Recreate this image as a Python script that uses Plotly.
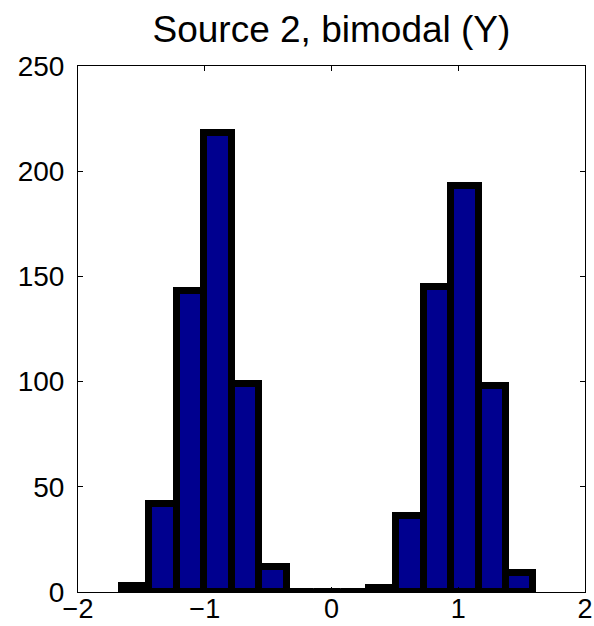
import plotly.graph_objects as go

# Histogram data
bin_centers = [-1.546, -1.329, -1.113, -0.896, -0.680, -0.463, -0.247, -0.030,
               0.186, 0.403, 0.619, 0.836, 1.052, 1.269, 1.485]
counts = [3, 42, 143, 218, 99, 12, 0, 0, 0, 2, 36, 145, 193, 98, 9]
bin_width = 0.2165

x_ticks = [-2, -1, 0, 1, 2]
y_ticks = [0, 50, 100, 150, 200, 250]
title_text = "Source 2, bimodal (Y)"

fig = go.Figure()
fig.add_trace(go.Bar(
    x=bin_centers, y=counts, width=[bin_width] * len(counts),
    marker=dict(color="#00008F", line=dict(color="black", width=7)),
    showlegend=False,
))

# zero-count bins: MATLAB still draws their thick edge along the baseline
zx, zy = [], []
for c, n in zip(bin_centers, counts):
    if n == 0:
        zx += [c - bin_width / 2, c + bin_width / 2]
        zy += [n, n]
fig.add_trace(go.Scatter(x=zx, y=zy, mode="lines",
                         line=dict(color="black", width=7),
                         showlegend=False, hoverinfo="skip"))

axis_common = dict(
    showgrid=False, zeroline=False, showline=True, linecolor="black",
    linewidth=1, mirror="ticks", ticks="inside", ticklen=5, automargin=False,
    tickcolor="black",
)
fig.update_xaxes(range=[-2, 2], tickvals=x_ticks, ticklabelstandoff=-7,
                 tickfont=dict(family="Liberation Sans, Arial", size=27, color="black"),
                 **axis_common)
fig.update_yaxes(range=[0, 250], tickvals=y_ticks, ticklabelstandoff=7,
                 tickfont=dict(family="Liberation Sans, Arial", size=28, color="black"),
                 **axis_common)

fig.update_layout(
    width=594, height=626,
    margin=dict(l=78, r=9, t=66, b=34),
    paper_bgcolor="white", plot_bgcolor="white",
    bargap=0,
    title=dict(text=title_text, x=0.558, xanchor="center", y=0.953, yanchor="middle",
               font=dict(family="Liberation Sans, Arial", size=37, color="black"),
               automargin=False),
)

fig.write_html("out.html")
